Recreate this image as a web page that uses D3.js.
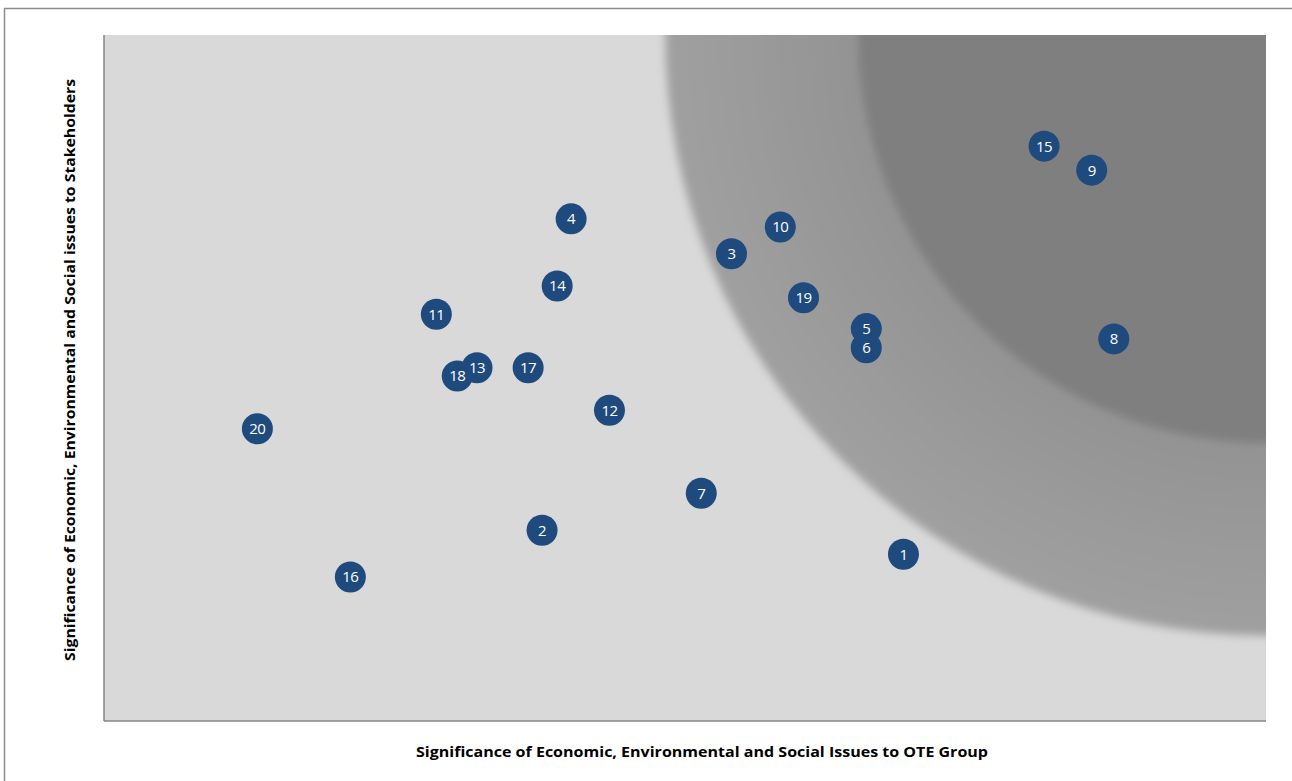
<!DOCTYPE html>
<html>
<head>
<meta charset="utf-8">
<script src="https://cdn.jsdelivr.net/npm/d3@7"></script>
<style>
  body { margin: 0; background: #fff; }
</style>
</head>
<body>
<div id="chart"></div>
<script>
// issue numbers and their scores (0-10 on both axes)
const issues = [1, 2, 3, 4, 5, 6, 7, 8, 9, 10, 11, 12, 13, 14, 15, 16, 17, 18, 19, 20];
const oteScore = [6.88, 3.77, 5.40, 4.02, 6.56, 6.56, 5.14, 8.69, 8.50, 5.82, 2.86, 4.35, 3.21, 3.90, 8.09, 2.12, 3.65, 3.04, 6.02, 1.32];
const stakeholderScore = [2.43, 2.78, 6.81, 7.32, 5.72, 5.44, 3.32, 5.57, 8.03, 7.20, 5.93, 4.53, 5.15, 6.34, 8.38, 2.10, 5.15, 5.03, 6.17, 4.26];

// materiality zones, radius in x-axis units from the top right corner
const zoneRadius = [5.17, 3.51];
const zoneColor = [["#a0a0a0", "#929292"], ["#7f7f7f", "#7f7f7f"]];

const W = 1292, H = 781;
const margin = {left: 104, right: 26, top: 35, bottom: 60};

const svg = d3.select("#chart").append("svg")
    .attr("width", W)
    .attr("height", H)
    .attr("font-family", "'Open Sans', sans-serif");

// outer frame
svg.append("rect")
    .attr("x", 4.5).attr("y", 8.5)
    .attr("width", W).attr("height", H)
    .attr("fill", "none")
    .attr("stroke", "#8c8c8c")
    .attr("stroke-width", 1.5);

const x = d3.scaleLinear().domain([0, 10]).range([margin.left, W - margin.right]);
const y = d3.scaleLinear().domain([0, 10]).range([H - margin.bottom, margin.top]);

const defs = svg.append("defs");
defs.append("clipPath").attr("id", "plot-clip")
  .append("rect")
    .attr("x", x(0)).attr("y", y(10))
    .attr("width", x(10) - x(0)).attr("height", y(0) - y(10));

defs.append("filter").attr("id", "soft")
    .attr("x", "-20%").attr("y", "-20%").attr("width", "140%").attr("height", "140%")
  .append("feGaussianBlur").attr("stdDeviation", 4);

zoneColor.forEach((c, i) => {
  const g = defs.append("radialGradient").attr("id", "zone" + i);
  g.append("stop").attr("offset", "65%").attr("stop-color", c[1]);
  g.append("stop").attr("offset", "100%").attr("stop-color", c[0]);
});

const plot = svg.append("g").attr("clip-path", "url(#plot-clip)");

plot.append("rect")
    .attr("x", x(0)).attr("y", y(10))
    .attr("width", x(10) - x(0)).attr("height", y(0) - y(10))
    .attr("fill", "#d9d9d9");

plot.selectAll("circle.zone")
  .data(zoneRadius)
  .join("circle")
    .attr("class", "zone")
    .attr("cx", x(10))
    .attr("cy", y(10))
    .attr("r", d => x(10) - x(10 - d))
    .attr("fill", (d, i) => `url(#zone${i})`)
    .attr("filter", "url(#soft)");

// left and bottom axis lines
svg.append("line")
    .attr("x1", x(0)).attr("x2", x(0))
    .attr("y1", y(10)).attr("y2", y(0))
    .attr("stroke", "#868686").attr("stroke-width", 1.5);
svg.append("line")
    .attr("x1", x(0)).attr("x2", x(10))
    .attr("y1", y(0)).attr("y2", y(0))
    .attr("stroke", "#868686").attr("stroke-width", 1.5);

// issue markers, labels drawn after all bubbles so none get covered
const pts = issues.map((n, i) => ({n, ote: oteScore[i], stake: stakeholderScore[i]}));

svg.append("g").selectAll("circle")
  .data(pts)
  .join("circle")
    .attr("cx", d => x(d.ote))
    .attr("cy", d => y(d.stake))
    .attr("r", 15.5)
    .attr("fill", "#1f4a7e");

svg.append("g").selectAll("text")
  .data(pts)
  .join("text")
    .attr("x", d => x(d.ote))
    .attr("y", d => y(d.stake))
    .attr("text-anchor", "middle")
    .attr("dy", "0.36em")
    .attr("fill", "#fff")
    .attr("font-size", 15)
    .attr("letter-spacing", "-0.5")
    .text(d => d.n);

// axis titles
svg.append("text")
    .attr("x", 702).attr("y", 757)
    .attr("text-anchor", "middle")
    .attr("font-size", 15)
    .attr("font-weight", "bold")
    .attr("fill", "#000")
    .attr("textLength", 572)
    .attr("lengthAdjust", "spacingAndGlyphs")
    .text("Significance of Economic, Environmental and Social Issues to OTE Group");

svg.append("text")
    .attr("transform", "translate(75,370) rotate(-90)")
    .attr("text-anchor", "middle")
    .attr("font-size", 15)
    .attr("font-weight", "bold")
    .attr("fill", "#000")
    .attr("textLength", 582)
    .attr("lengthAdjust", "spacingAndGlyphs")
    .text("Significance of Economic, Environmental and Social issues to Stakeholders");
</script>
</body>
</html>
